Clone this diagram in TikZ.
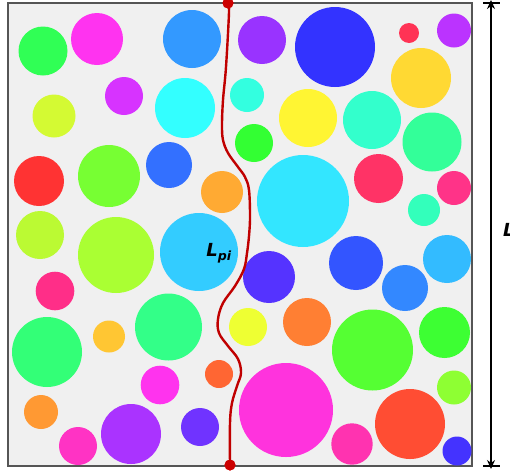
\documentclass[tikz,border=0pt]{standalone}
\usepackage{fontspec}
\setsansfont{DejaVu Sans}
\usepackage{xcolor}
\usetikzlibrary{arrows.meta, positioning}
\definecolor{boxfill}{HTML}{F0F0F0}
\definecolor{boxgray}{HTML}{555555}
\definecolor{pathred}{HTML}{C00000}
\definecolor{dotred}{HTML}{CC0000}

\begin{document}
\begin{tikzpicture}[x=1pt, y=-1pt,
        ball/.style={fill=ballc, draw=none},
        samplebox/.style={draw=boxgray, line width=1.6pt, fill=boxfill},
        pathline/.style={draw=pathred, line width=2.4pt},
        enddot/.style={circle, fill=dotred, inner sep=0pt, minimum size=11pt},
        tick/.style={line width=2pt},
        arr/.style={<->, >={Stealth[length=9pt, width=8pt]}, line width=2pt},
        lbl/.style={font=\sffamily\bfseries\itshape\fontsize{18}{20}\selectfont, inner sep=0pt}
    ]
        \useasboundingbox (0,0) rectangle (510,472);
        \draw[samplebox] (8,3) rectangle (472,466);

        % particles: x / y / radius / colour
        \foreach \px/\py/\pr/\pc in {
            43/51/24.5/30FF55, 97/39/26/FF33F0, 192/39/29/3399FF, 262/40/24/9933FF,
            335/47/40/3333FF, 409/33/10/FF3355, 454/30.5/17/BB33FF, 421/78/30/FFD933,
            54/116/21.5/D4FA33, 124/96/19/D733FF, 185/108/30/33FFFF, 247/95/17/33FFE0,
            308/118/29/FFF533, 372/120/29/33FFCC, 432/142/29.5/33FF99, 254/143/19/33FF33,
            39/181/25/FF3333, 109/176/31/77FF33, 169/165/23/3370FF, 222/192/21/FFAA33,
            303/201/46/33E6FF, 378.5/178.5/24.5/FF3366, 454/188/17/FF3388, 424/210/16/33FFBB,
            40/235/24/BBFA33, 116/255/38/AAFF33, 199/252/39/33CCFF, 269/277/26/5533FF,
            356/263/27/3355FF, 447/259/24/33BBFF, 405/288/23/3388FF, 55/291/19.3/FF2E88,
            47/352/35/33FF77, 109/336.5/16/FFC633, 168.5/327/33.5/33FF88, 248/327/19/EEFF33,
            307/322/24/FF7F33, 372.5/350/40.5/55FF33, 444.5/332.5/25.5/3DFF33, 160/385/19.3/FF33EE,
            219/374/14/FF6633, 286/410/47/FF33DD, 454/387.5/17/8EFF33, 41/412/17/FF9933,
            131/434/30/AA33FF, 200/427/19/7033FF, 78/446/19/FF33C4, 352/444/20.7/FF33B0,
            410/424/35/FF4D33, 457/451/14.5/4433FF}
        {
            \definecolor{ballc}{HTML}{\pc}
            \fill[ball] (\px,\py) circle[radius=\pr];
        }

        % percolation path
        \node[enddot] (top) at (228,3)   {};
        \node[enddot] (bot) at (230,465) {};
        \draw[pathline] plot[smooth, tension=0.6] coordinates {
            (top.center) (229,12) (226,67) (223,100) (222,125) (223,140) (228,153)
            (238,167) (245,177) (249,190) (250,217) (249,236) (247,253) (244,269)
            (235,286) (223,303) (218,319) (219,333) (228,346) (238,359) (241,373)
            (237,386) (232,403) (230,423) (bot.center)};
        \node[enddot] at (top) {};
        \node[enddot] at (bot) {};
        \node[lbl] (lpi) at (219,253) {L\textsubscript{pi}};

        % side length
        \coordinate (ltop) at (491,3);
        \coordinate (lbot) at (491,466);
        \draw[tick] ([xshift=-8pt]ltop) -- ([xshift=9pt]ltop);
        \draw[tick] ([xshift=-8pt]lbot) -- ([xshift=9pt]lbot);
        \draw[arr] ([yshift=3pt]ltop) -- ([yshift=-3pt]lbot);
        \node[lbl, anchor=west] (lside) at (503,230) {L};
    \end{tikzpicture}
\end{document}
